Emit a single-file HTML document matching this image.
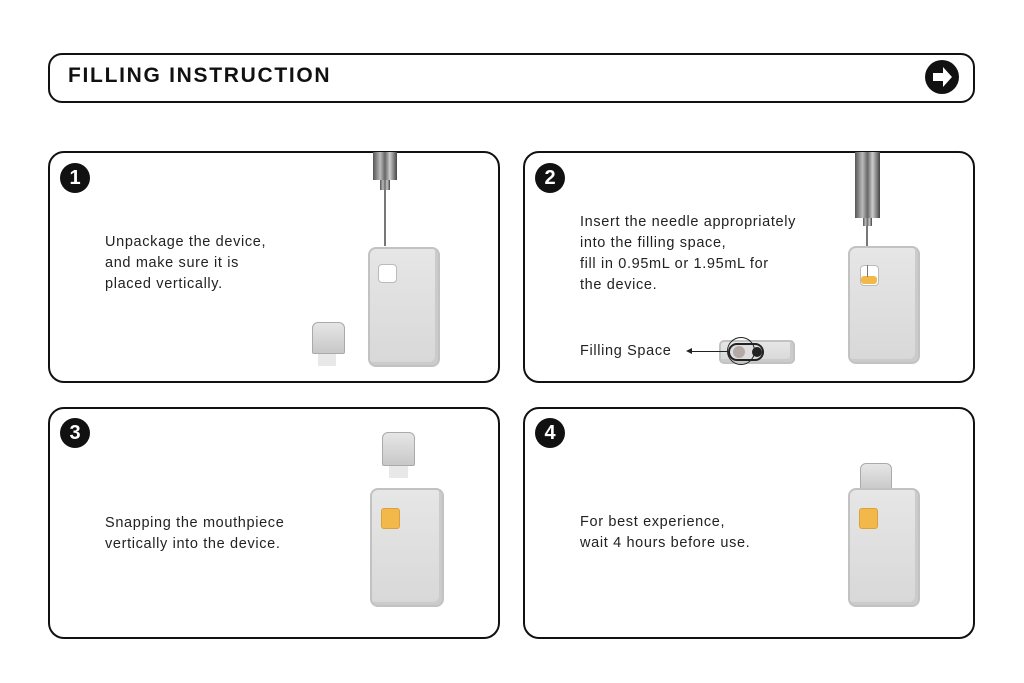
<!DOCTYPE html>
<html><head><meta charset="utf-8"><style>
body{margin:0;width:1024px;height:683px;background:#fff;position:relative;overflow:hidden;font-family:"Liberation Sans",sans-serif;}
.box{position:absolute;border:2px solid #111;border-radius:16px;box-sizing:border-box;}
.num{position:absolute;width:30px;height:30px;border-radius:50%;background:#111;color:#fff;font-weight:bold;font-size:20px;text-align:center;line-height:30px;}
.t{position:absolute;font-size:14.5px;line-height:21px;color:#222;letter-spacing:0.65px;}
.dev{position:absolute;background:linear-gradient(#e6e6e6,#d8d8d8);border-radius:8px;border:2px solid #c2c2c2;box-sizing:border-box;box-shadow:inset -3px -3px 0 #cbcbcb;}
.win{position:absolute;background:#fff;border-radius:4px;border:1px solid #bbb;}
.yel{position:absolute;background:#f2b84a;border-radius:3px;}
.syr{position:absolute;background:linear-gradient(90deg,#555,#bbb 30%,#666 50%,#ccc 70%,#444);}
.ndl{position:absolute;width:2px;background:#777;}
.mp{position:absolute;background:linear-gradient(#e6e6e6,#c8c8c8);border:1px solid #aaa;border-radius:6px 6px 2px 2px;box-sizing:border-box;}
</style></head><body>
<div class="box" style="left:48px;top:53px;width:927px;height:50px;border-radius:14px"></div>
<div style="position:absolute;left:68px;top:64px;font-size:21px;font-weight:bold;letter-spacing:1.7px;color:#111">FILLING INSTRUCTION</div>
<div style="position:absolute;left:925px;top:60px;width:34px;height:34px;border-radius:50%;background:#111"></div>
<svg style="position:absolute;left:925px;top:60px" width="34" height="34"><path d="M8 13h10v-6l9 10-9 10v-6H8z" fill="#fff"/></svg>

<div class="box" style="left:48px;top:151px;width:452px;height:232px"></div>
<div class="box" style="left:523px;top:151px;width:452px;height:232px"></div>
<div class="box" style="left:48px;top:407px;width:452px;height:232px"></div>
<div class="box" style="left:523px;top:407px;width:452px;height:232px"></div>

<div class="num" style="left:60px;top:163px">1</div>
<div class="num" style="left:535px;top:163px">2</div>
<div class="num" style="left:60px;top:418px">3</div>
<div class="num" style="left:535px;top:418px">4</div>

<div class="t" style="left:105px;top:232px">Unpackage the device,<br>and make sure it is<br>placed vertically.</div>
<div class="t" style="left:580px;top:212px">Insert the needle appropriately<br>into the filling space,<br>fill in 0.95mL or 1.95mL for<br>the device.</div>
<div class="t" style="left:580px;top:341px">Filling Space</div>
<div class="t" style="left:105px;top:513px">Snapping the mouthpiece<br>vertically into the device.</div>
<div class="t" style="left:580px;top:512px">For best experience,<br>wait 4 hours before use.</div>

<!-- panel1 -->
<div class="syr" style="left:373px;top:152px;width:24px;height:28px"></div>
<div class="syr" style="left:380px;top:180px;width:10px;height:10px"></div>
<div class="ndl" style="left:384px;top:190px;height:56px"></div>
<div class="dev" style="left:368px;top:247px;width:72px;height:120px"></div>
<div class="win" style="left:378px;top:264px;width:17px;height:17px"></div>
<div class="mp" style="left:312px;top:322px;width:33px;height:32px"></div>
<div style="position:absolute;left:318px;top:354px;width:18px;height:12px;background:#e8e8e8"></div>

<!-- panel2 -->
<div class="syr" style="left:855px;top:152px;width:25px;height:66px"></div>
<div class="syr" style="left:863px;top:218px;width:9px;height:8px"></div>
<div class="ndl" style="left:866px;top:226px;height:20px"></div>
<div class="dev" style="left:848px;top:246px;width:72px;height:118px"></div>
<div class="win" style="left:860px;top:265px;width:17px;height:19px"></div>
<div class="yel" style="left:861px;top:276px;width:16px;height:8px"></div>
<div class="ndl" style="left:867px;top:265px;height:12px;width:1px"></div>
<div class="dev" style="left:719px;top:340px;width:76px;height:24px;border-radius:5px"></div>
<div style="position:absolute;left:728px;top:343px;width:36px;height:18px;border:2px solid #222;border-radius:9px;box-sizing:border-box;background:#ddd"></div>
<div style="position:absolute;left:752px;top:347px;width:10px;height:10px;border-radius:50%;background:#222"></div>
<div style="position:absolute;left:733px;top:346px;width:12px;height:12px;border-radius:50%;background:#b5aaa3"></div>
<div style="position:absolute;left:727px;top:337px;width:26px;height:26px;border:1.5px solid #222;border-radius:50%"></div>
<div style="position:absolute;left:690px;top:351px;width:38px;height:1px;background:#222"></div>
<div style="position:absolute;left:686px;top:348px;border-right:6px solid #222;border-top:3px solid transparent;border-bottom:3px solid transparent"></div>

<!-- panel3 -->
<div class="mp" style="left:382px;top:432px;width:33px;height:34px"></div>
<div style="position:absolute;left:389px;top:466px;width:19px;height:12px;background:#e8e8e8"></div>
<div class="dev" style="left:370px;top:488px;width:74px;height:119px"></div>
<div class="yel" style="left:381px;top:508px;width:17px;height:19px;border:1px solid #d9a23a"></div>

<!-- panel4 -->
<div class="mp" style="left:860px;top:463px;width:32px;height:28px"></div>
<div class="dev" style="left:848px;top:488px;width:72px;height:119px"></div>
<div class="yel" style="left:859px;top:508px;width:17px;height:19px;border:1px solid #d9a23a"></div>
</body></html>
